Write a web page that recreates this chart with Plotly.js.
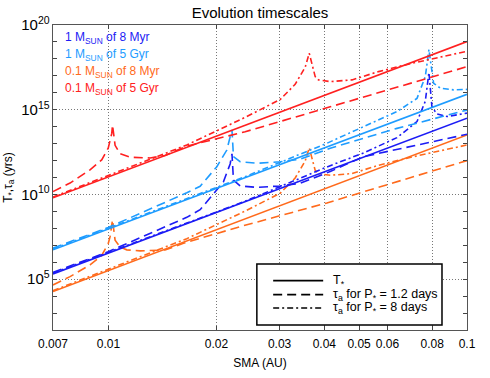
<!DOCTYPE html>
<html>
<head>
<meta charset="utf-8">
<script src="https://cdn.plot.ly/plotly-3.0.1.min.js"></script>
<style>
  html, body { margin: 0; padding: 0; background: #fff; }
  #plot { width: 490px; height: 378px; }
</style>
</head>
<body>
<div id="plot"></div>
<script>
// values; y values are log10(yrs)
const aSolid = [0.007, 0.1];
const logRedSolid = [9.8, 19.02];
const logLightSolid = [6.73, 15.91];
const logBlueSolid = [5.31, 14.5];
const logOrangeSolid = [4.27, 13.51];

// 0.1 Msun, 5 Gyr
const aRedDash = [0.007, 0.00781, 0.00888, 0.00957, 0.00998, 0.01021, 0.01026, 0.01043, 0.01077, 0.01148, 0.01306, 0.01438, 0.01653, 0.02405, 0.04153, 0.1];
const logRedDash = [10.17, 10.67, 11.45, 12.04, 12.73, 13.6, 14.1, 12.9, 12.4, 12.2, 12.15, 12.3, 12.85, 13.7, 15.17, 17.54];
const aRedDot = [0.007, 0.00998, 0.01653, 0.02405, 0.03011, 0.03316, 0.03536, 0.0363, 0.03772, 0.03853, 0.04153, 0.04776, 0.05666, 0.0702, 0.1];
const logRedDot = [9.85, 11.1, 12.92, 14.55, 15.6, 16.5, 17.5, 18.33, 16.95, 16.76, 16.66, 16.76, 17.25, 17.74, 18.45];

// 1 Msun, 5 Gyr
const aLightDash = [0.007, 0.00998, 0.01653, 0.01801, 0.02005, 0.02138, 0.02184, 0.0221, 0.02231, 0.02329, 0.02594, 0.03011, 0.03425, 0.04153, 0.06378, 0.1];
const logLightDash = [6.83, 8.05, 10.1, 10.48, 11.64, 12.62, 13.4, 13.8, 12.23, 11.93, 11.84, 11.93, 12.08, 12.73, 13.9, 14.98];
const aLightDot = [0.007, 0.02405, 0.04066, 0.05036, 0.06378, 0.07253, 0.0765, 0.0783, 0.0807, 0.08427, 0.09177, 0.1];
const logLightDot = [6.78, 11.05, 13.02, 13.9, 14.89, 15.67, 16.95, 18.55, 16.56, 16.27, 16.17, 16.2];

// 1 Msun, 8 Myr
const aBlueDash = [0.007, 0.00998, 0.01653, 0.01801, 0.01921, 0.02092, 0.02184, 0.0221, 0.02231, 0.02329, 0.02594, 0.03011, 0.03425, 0.04153, 0.05144, 0.1];
const logBlueDash = [5.4, 6.62, 8.65, 9.1, 9.8, 10.75, 11.8, 12.4, 10.85, 10.5, 10.42, 10.5, 10.66, 11.35, 12.23, 13.55];
const aBlueDot = [0.007, 0.02405, 0.04153, 0.05144, 0.06378, 0.07253, 0.0765, 0.0783, 0.07985, 0.08248, 0.08795, 0.1];
const logBlueDot = [5.36, 9.6, 11.7, 12.45, 13.35, 14.3, 15.5, 17.2, 15.15, 14.75, 14.6, 14.8];

// 0.1 Msun, 8 Myr
const aOrangeDash = [0.007, 0.00781, 0.00888, 0.00957, 0.00998, 0.0101, 0.01026, 0.01043, 0.01077, 0.01124, 0.01225, 0.01438, 0.01618, 0.02329, 0.04066, 0.1];
const logOrangeDash = [4.66, 5.15, 5.84, 6.4, 7.1, 7.51, 8.5, 7.3, 6.9, 6.73, 6.67, 6.72, 7.12, 8.1, 9.5, 12.0];
const aOrangeDot = [0.007, 0.00998, 0.01653, 0.02405, 0.03011, 0.03316, 0.03536, 0.0363, 0.03772, 0.03853, 0.04153, 0.04776, 0.05666, 0.0702, 0.1];
const logOrangeDot = [4.32, 5.57, 7.39, 9.02, 10.07, 10.97, 11.97, 12.75, 11.42, 11.23, 11.13, 11.23, 11.72, 12.21, 12.92];

const xTicks = [0.007, 0.01, 0.02, 0.03, 0.04, 0.05, 0.06, 0.08, 0.1];
const xTickText = ['0.007', '0.01', '0.02', '0.03', '0.04', '0.05', '0.06', '0.08', '0.1'];

const labels = ['1 M<sub>SUN</sub> of 8 Myr', '1 M<sub>SUN</sub> of 5 Gyr', '0.1 M<sub>SUN</sub> of 8 Myr', '0.1 M<sub>SUN</sub> of 5 Gyr'];
const legendNames = ['T<sub>*</sub>', 'τ<sub>a</sub> for P<sub>*</sub> = 1.2 days', 'τ<sub>a</sub> for P<sub>*</sub> = 8 days'];

const RED = '#ff2020', LIGHT = '#1e9cff', BLUE = '#1c1cf5', ORANGE = '#ff6a1c';
const DASH = '9px,5px', DASHDOT = '6px,3px,2px,3px';
const legendDashes = ['solid', DASH, DASHDOT];
const FONT = 'Liberation Sans, Arial, sans-serif';

function line(x, logy, color, dash) {
    return {
        x: x,
        y: logy.map(v => Math.pow(10, v)),
        mode: 'lines',
        type: 'scatter',
        showlegend: false,
        hoverinfo: 'skip',
        line: { color: color, width: 1.6, dash: dash }
    };
}

const traces = [
    line(aSolid, logOrangeSolid, ORANGE, 'solid'),
    line(aOrangeDash, logOrangeDash, ORANGE, DASH),
    line(aOrangeDot, logOrangeDot, ORANGE, DASHDOT),
    line(aSolid, logBlueSolid, BLUE, 'solid'),
    line(aBlueDash, logBlueDash, BLUE, DASH),
    line(aBlueDot, logBlueDot, BLUE, DASHDOT),
    line(aSolid, logLightSolid, LIGHT, 'solid'),
    line(aLightDash, logLightDash, LIGHT, DASH),
    line(aLightDot, logLightDot, LIGHT, DASHDOT),
    line(aSolid, logRedSolid, RED, 'solid'),
    line(aRedDash, logRedDash, RED, DASH),
    line(aRedDot, logRedDot, RED, DASHDOT)
];

const labelColors = [BLUE, LIGHT, ORANGE, RED];
const labelY = [0.956, 0.902, 0.845, 0.789];
const annotations = labels.map((t, i) => ({
    text: t, xref: 'paper', yref: 'paper',
    x: 0.025, y: labelY[i], xanchor: 'left', yanchor: 'middle',
    showarrow: false, font: { color: labelColors[i], size: 12 }
}));

// hand-drawn legend box (line samples are wider than plotly's own)
const legY = [0.162, 0.116, 0.072];
const shapes = [{
    type: 'rect', xref: 'paper', yref: 'paper',
    x0: 0.4924, x1: 0.9396, y0: 0.0164, y1: 0.2164,
    line: { color: 'black', width: 1.5 }, fillcolor: 'white', layer: 'above'
}];
legendNames.forEach((t, i) => {
    shapes.push({
        type: 'line', xref: 'paper', yref: 'paper',
        x0: 0.5318, x1: 0.6526, y0: legY[i], y1: legY[i],
        line: { color: 'black', width: 1.6, dash: legendDashes[i] }, layer: 'above'
    });
    annotations.push({
        text: t, xref: 'paper', yref: 'paper',
        x: 0.672, y: legY[i], xanchor: 'left', yanchor: 'middle',
        showarrow: false, font: { color: 'black', size: 12.5 }
    });
});

const layout = {
    width: 490, height: 378,
    margin: { l: 53, r: 23, t: 25, b: 48 },
    paper_bgcolor: 'white', plot_bgcolor: 'white',
    font: { family: FONT, size: 12, color: 'black' },
    title: {
        text: 'Evolution timescales',
        xref: 'paper', x: 0.5, xanchor: 'center',
        yref: 'container', y: 0.966, yanchor: 'middle',
        font: { family: FONT, size: 15, color: 'black' }
    },
    showlegend: false,
    xaxis: {
        type: 'log',
        range: [Math.log10(0.007), -1],
        tickvals: xTicks, ticktext: xTickText,
        ticks: 'inside', ticklen: 4, ticklabelstandoff: 3,
        showline: true, mirror: 'ticks', linecolor: '#555', linewidth: 1,
        showgrid: true, gridcolor: '#777', griddash: '1px,2px', gridwidth: 1,
        zeroline: false,
        title: { text: 'SMA (AU)', standoff: 8, font: { size: 12 } }
    },
    yaxis: {
        type: 'log',
        range: [2, 20],
        dtick: 5,
        exponentformat: 'power',
        ticks: 'inside', ticklen: 4,
        minor: { dtick: 1, ticks: 'inside', ticklen: 4, showgrid: false },
        showline: true, mirror: 'ticks', linecolor: '#555', linewidth: 1,
        showgrid: true, gridcolor: '#777', griddash: '1px,2px', gridwidth: 1,
        zeroline: false,
        title: { text: 'T<sub>*</sub>,τ<sub>a</sub> (yrs)', standoff: 6, font: { size: 12 } }
    },
    shapes: shapes,
    annotations: annotations
};

Plotly.newPlot('plot', traces, layout, { staticPlot: true, displayModeBar: false });
</script>
</body>
</html>
